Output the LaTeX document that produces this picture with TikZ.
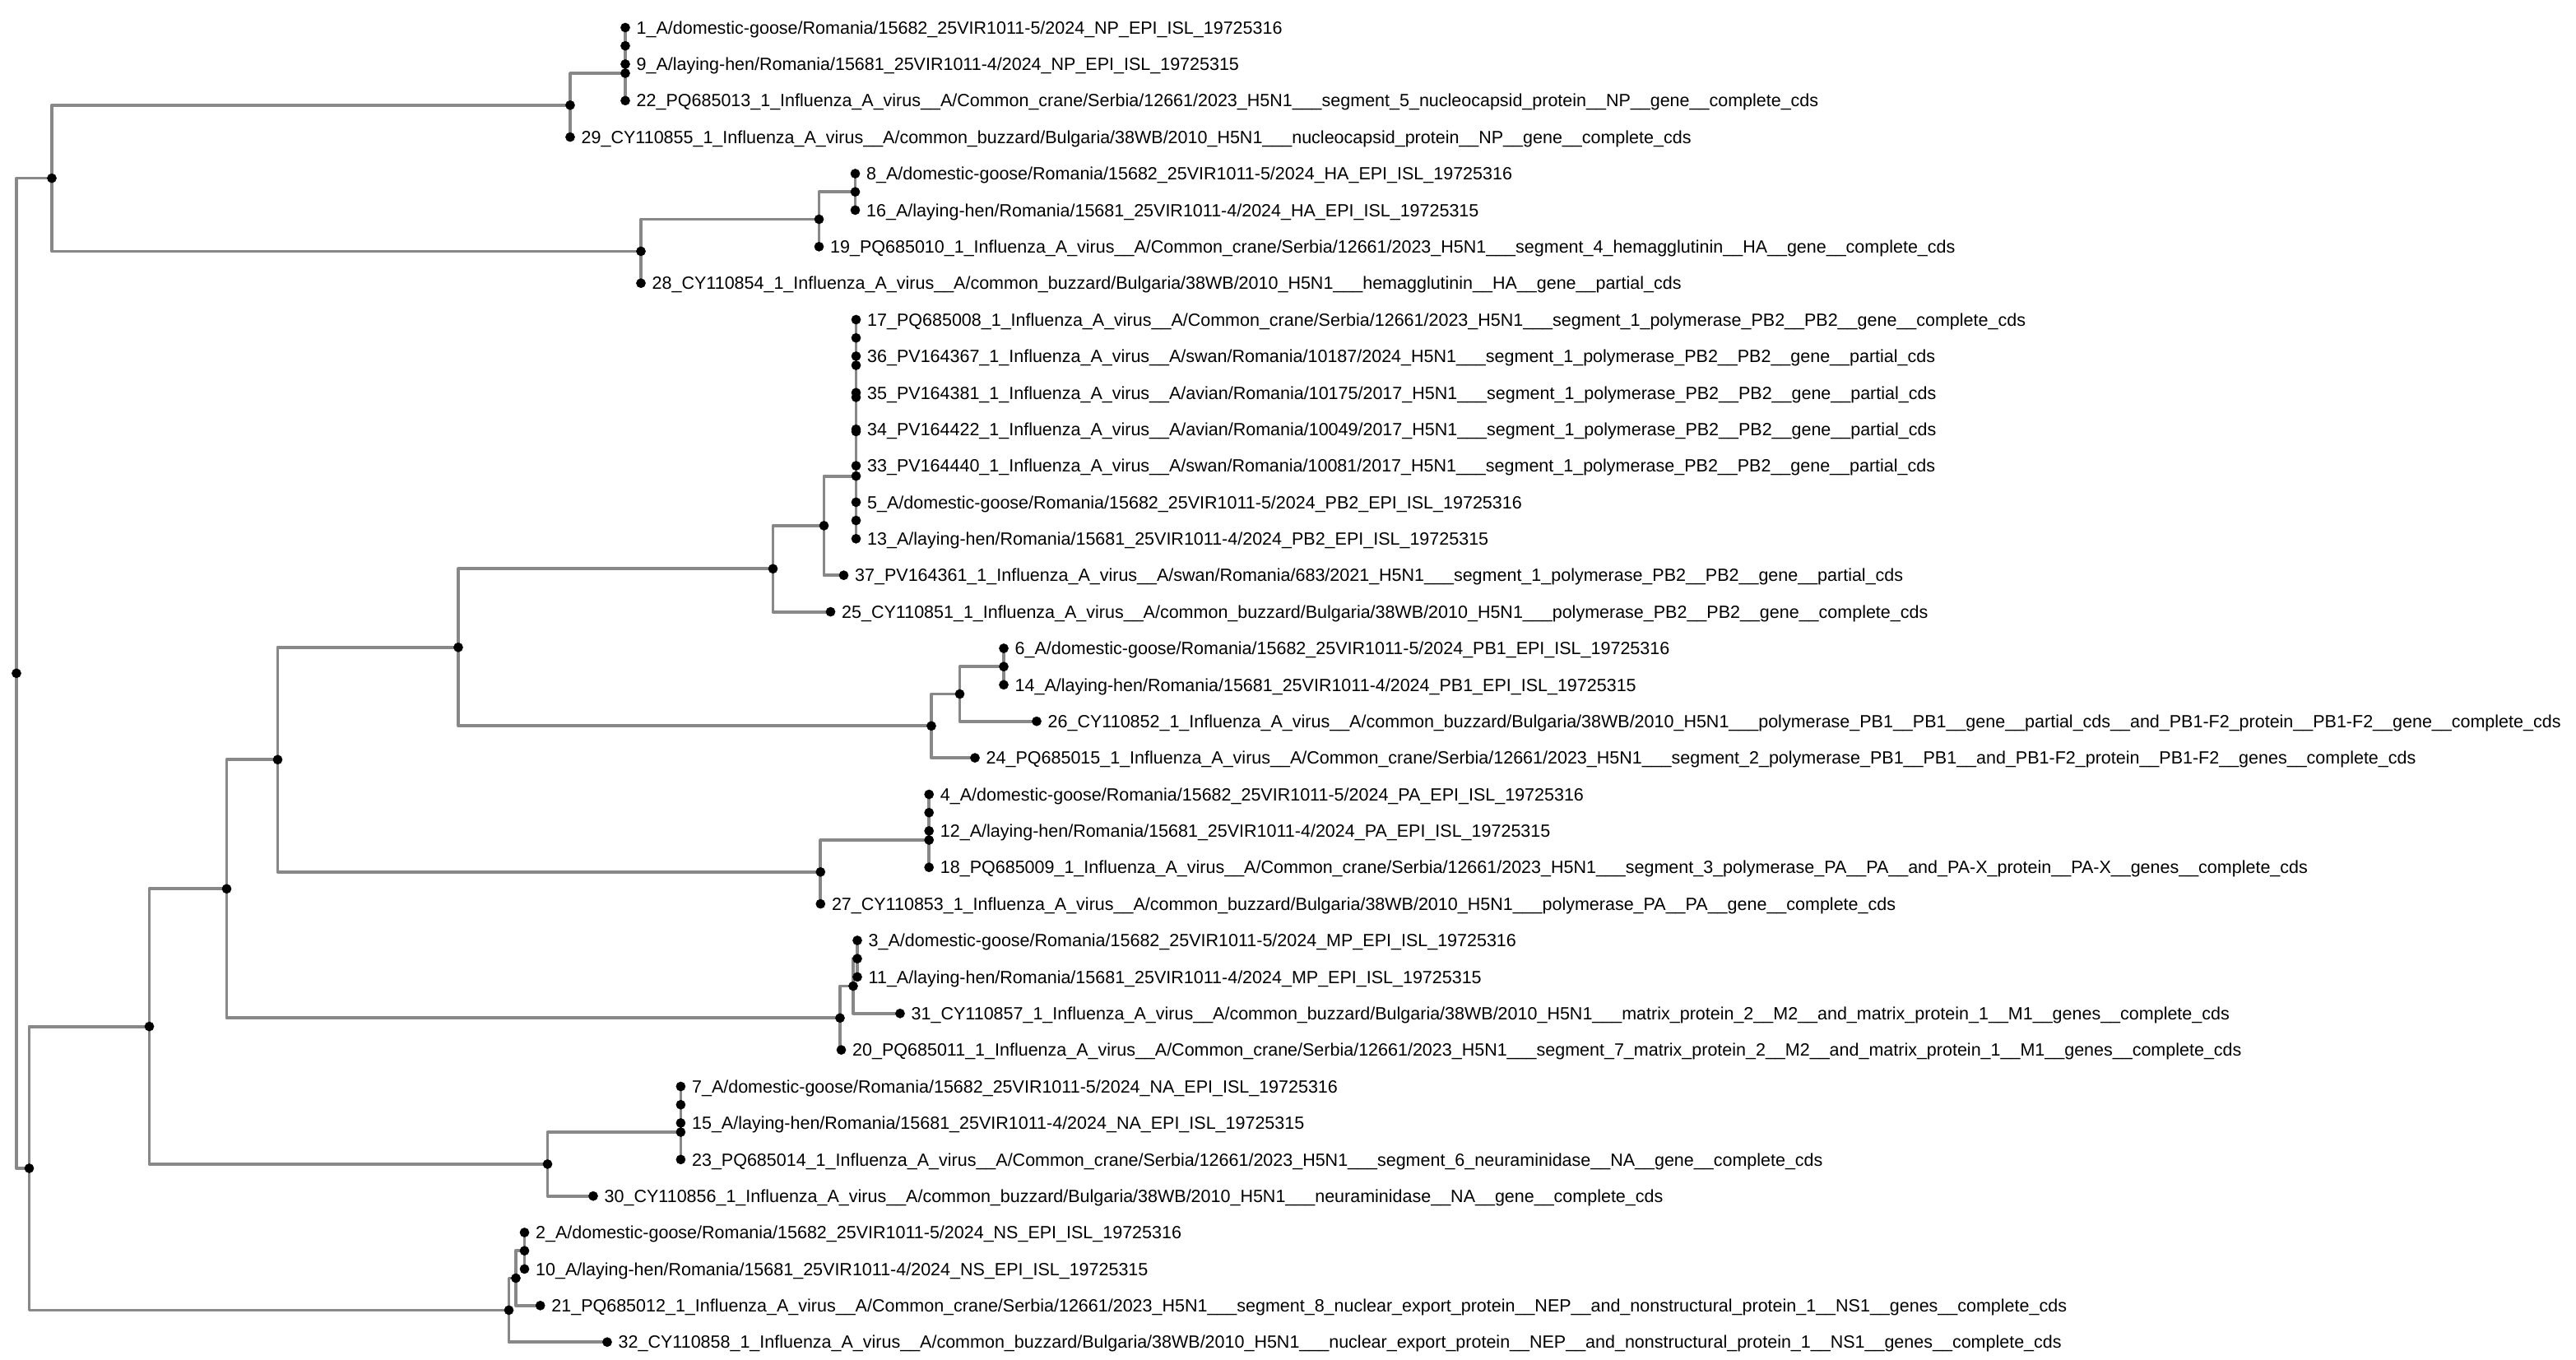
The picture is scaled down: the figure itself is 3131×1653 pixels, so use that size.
\documentclass[tikz,border=0pt]{standalone}
\usepackage{fontspec}
\setmainfont{Liberation Sans}
\definecolor{branchgray}{RGB}{136,136,136}

\begin{document}
\begin{tikzpicture}[line cap=round,line join=round,x=1pt,y=-1pt,
		branch/.style={line width=3.8pt,color=branchgray},
		leaflab/.style={anchor=base west,inner sep=0pt,xshift=13.5pt,yshift=-7.7pt,font=\fontsize{21.5}{25}\selectfont}]
		\useasboundingbox (0,0) rectangle (3131,1653);
		% internal nodes
		\coordinate (root) at (20,818.3);
		\coordinate (npha) at (63,216.6);
		\coordinate (np) at (693,127.8);
		\coordinate (np2) at (760,89.0);
		\coordinate (np1) at (760,55.7);
		\coordinate (ha) at (779,305.4);
		\coordinate (ha2) at (995.5,266.5);
		\coordinate (ha1) at (1039.5,233.2);
		\coordinate (pns) at (35.5,1420.0);
		\coordinate (pna) at (181.5,1247.6);
		\coordinate (pmp) at (275.5,1080.3);
		\coordinate (ppa) at (337.5,923.3);
		\coordinate (pb) at (557,786.8);
		\coordinate (pb2) at (939.5,691.3);
		\coordinate (pb2f) at (1001.5,638.9);
		\coordinate (pb2e) at (1040.5,578.6);
		\coordinate (pb2d) at (1040.5,524.5);
		\coordinate (pb2c) at (1040.5,482.9);
		\coordinate (pb2b) at (1040.5,444.0);
		\coordinate (pb2a) at (1040.5,410.7);
		\coordinate (pb2g) at (1040.5,632.6);
		\coordinate (pb1) at (1132,882.3);
		\coordinate (pb1b) at (1166.5,843.5);
		\coordinate (pb1a) at (1220,810.2);
		\coordinate (pa) at (997.3,1059.8);
		\coordinate (pa2) at (1129.2,1021.0);
		\coordinate (pa1) at (1129.2,987.7);
		\coordinate (mp) at (1021,1237.3);
		\coordinate (mp2) at (1037,1198.5);
		\coordinate (mp1) at (1042,1165.2);
		\coordinate (na) at (665.5,1414.9);
		\coordinate (na2) at (827.4,1376.0);
		\coordinate (na1) at (827.4,1342.7);
		\coordinate (ns) at (618.5,1592.4);
		\coordinate (ns2) at (627,1553.5);
		\coordinate (ns1) at (637.5,1520.2);
		% leaves
		\coordinate (lf1) at (760,33.5);
		\coordinate (lf9) at (760,77.9);
		\coordinate (lf22) at (760,122.3);
		\coordinate (lf29) at (693,166.6);
		\coordinate (lf8) at (1039.5,211.0);
		\coordinate (lf16) at (1039.5,255.4);
		\coordinate (lf19) at (995.5,299.8);
		\coordinate (lf28) at (779,344.2);
		\coordinate (lf17) at (1040.5,388.5);
		\coordinate (lf36) at (1040.5,432.9);
		\coordinate (lf35) at (1040.5,477.3);
		\coordinate (lf34) at (1040.5,521.7);
		\coordinate (lf33) at (1040.5,566.1);
		\coordinate (lf5) at (1040.5,610.4);
		\coordinate (lf13) at (1040.5,654.8);
		\coordinate (lf37) at (1025.5,699.2);
		\coordinate (lf25) at (1009.5,743.6);
		\coordinate (lf6) at (1220,788.0);
		\coordinate (lf14) at (1220,832.3);
		\coordinate (lf26) at (1260,876.7);
		\coordinate (lf24) at (1185,921.1);
		\coordinate (lf4) at (1129.2,965.5);
		\coordinate (lf12) at (1129.2,1009.9);
		\coordinate (lf18) at (1129.2,1054.2);
		\coordinate (lf27) at (997.3,1098.6);
		\coordinate (lf3) at (1042,1143.0);
		\coordinate (lf11) at (1042,1187.4);
		\coordinate (lf31) at (1094,1231.8);
		\coordinate (lf20) at (1022.5,1276.1);
		\coordinate (lf7) at (827.4,1320.5);
		\coordinate (lf15) at (827.4,1364.9);
		\coordinate (lf23) at (827.4,1409.3);
		\coordinate (lf30) at (721,1453.7);
		\coordinate (lf2) at (637.5,1498.0);
		\coordinate (lf10) at (637.5,1542.4);
		\coordinate (lf21) at (656.7,1586.8);
		\coordinate (lf32) at (738,1631.2);
		% branches
		\draw [branch] (root) |- (npha) (root) |- (pns);
		\draw [branch] (npha) |- (np) (npha) |- (ha);
		\draw [branch] (np) |- (np2) (np) |- (lf29);
		\draw [branch] (np2) |- (np1) (np2) |- (lf22);
		\draw [branch] (np1) |- (lf1) (np1) |- (lf9);
		\draw [branch] (ha) |- (ha2) (ha) |- (lf28);
		\draw [branch] (ha2) |- (ha1) (ha2) |- (lf19);
		\draw [branch] (ha1) |- (lf8) (ha1) |- (lf16);
		\draw [branch] (pns) |- (pna) (pns) |- (ns);
		\draw [branch] (pna) |- (pmp) (pna) |- (na);
		\draw [branch] (pmp) |- (ppa) (pmp) |- (mp);
		\draw [branch] (ppa) |- (pb) (ppa) |- (pa);
		\draw [branch] (pb) |- (pb2) (pb) |- (pb1);
		\draw [branch] (pb2) |- (pb2f) (pb2) |- (lf25);
		\draw [branch] (pb2f) |- (pb2e) (pb2f) |- (lf37);
		\draw [branch] (pb2e) |- (pb2d) (pb2e) |- (pb2g);
		\draw [branch] (pb2d) |- (pb2c) (pb2d) |- (lf33);
		\draw [branch] (pb2c) |- (pb2b) (pb2c) |- (lf34);
		\draw [branch] (pb2b) |- (pb2a) (pb2b) |- (lf35);
		\draw [branch] (pb2a) |- (lf17) (pb2a) |- (lf36);
		\draw [branch] (pb2g) |- (lf5) (pb2g) |- (lf13);
		\draw [branch] (pb1) |- (pb1b) (pb1) |- (lf24);
		\draw [branch] (pb1b) |- (pb1a) (pb1b) |- (lf26);
		\draw [branch] (pb1a) |- (lf6) (pb1a) |- (lf14);
		\draw [branch] (pa) |- (pa2) (pa) |- (lf27);
		\draw [branch] (pa2) |- (pa1) (pa2) |- (lf18);
		\draw [branch] (pa1) |- (lf4) (pa1) |- (lf12);
		\draw [branch] (mp) |- (mp2) (mp) |- (lf20);
		\draw [branch] (mp2) |- (mp1) (mp2) |- (lf31);
		\draw [branch] (mp1) |- (lf3) (mp1) |- (lf11);
		\draw [branch] (na) |- (na2) (na) |- (lf30);
		\draw [branch] (na2) |- (na1) (na2) |- (lf23);
		\draw [branch] (na1) |- (lf7) (na1) |- (lf15);
		\draw [branch] (ns) |- (ns2) (ns) |- (lf32);
		\draw [branch] (ns2) |- (ns1) (ns2) |- (lf21);
		\draw [branch] (ns1) |- (lf2) (ns1) |- (lf10);
		% node dots
		\draw [fill=black] (root) circle (5.6pt);
		\draw [fill=black] (npha) circle (5.6pt);
		\draw [fill=black] (np) circle (5.6pt);
		\draw [fill=black] (np2) circle (5.6pt);
		\draw [fill=black] (np1) circle (5.6pt);
		\draw [fill=black] (ha) circle (5.6pt);
		\draw [fill=black] (ha2) circle (5.6pt);
		\draw [fill=black] (ha1) circle (5.6pt);
		\draw [fill=black] (pns) circle (5.6pt);
		\draw [fill=black] (pna) circle (5.6pt);
		\draw [fill=black] (pmp) circle (5.6pt);
		\draw [fill=black] (ppa) circle (5.6pt);
		\draw [fill=black] (pb) circle (5.6pt);
		\draw [fill=black] (pb2) circle (5.6pt);
		\draw [fill=black] (pb2f) circle (5.6pt);
		\draw [fill=black] (pb2e) circle (5.6pt);
		\draw [fill=black] (pb2d) circle (5.6pt);
		\draw [fill=black] (pb2c) circle (5.6pt);
		\draw [fill=black] (pb2b) circle (5.6pt);
		\draw [fill=black] (pb2a) circle (5.6pt);
		\draw [fill=black] (pb2g) circle (5.6pt);
		\draw [fill=black] (pb1) circle (5.6pt);
		\draw [fill=black] (pb1b) circle (5.6pt);
		\draw [fill=black] (pb1a) circle (5.6pt);
		\draw [fill=black] (pa) circle (5.6pt);
		\draw [fill=black] (pa2) circle (5.6pt);
		\draw [fill=black] (pa1) circle (5.6pt);
		\draw [fill=black] (mp) circle (5.6pt);
		\draw [fill=black] (mp2) circle (5.6pt);
		\draw [fill=black] (mp1) circle (5.6pt);
		\draw [fill=black] (na) circle (5.6pt);
		\draw [fill=black] (na2) circle (5.6pt);
		\draw [fill=black] (na1) circle (5.6pt);
		\draw [fill=black] (ns) circle (5.6pt);
		\draw [fill=black] (ns2) circle (5.6pt);
		\draw [fill=black] (ns1) circle (5.6pt);
		% leaf dots and names
		\draw [fill=black] (lf1) circle (5.6pt);
		\node [leaflab] (t1) at (lf1) {1\_A/domestic-goose/Romania/15682\_25VIR1011-5/2024\_NP\_EPI\_ISL\_19725316};
		\draw [fill=black] (lf9) circle (5.6pt);
		\node [leaflab] (t9) at (lf9) {9\_A/laying-hen/Romania/15681\_25VIR1011-4/2024\_NP\_EPI\_ISL\_19725315};
		\draw [fill=black] (lf22) circle (5.6pt);
		\node [leaflab] (t22) at (lf22) {22\_PQ685013\_1\_Influenza\_A\_virus\_\_A/Common\_crane/Serbia/12661/2023\_H5N1\_\_\_segment\_5\_nucleocapsid\_protein\_\_NP\_\_gene\_\_complete\_cds};
		\draw [fill=black] (lf29) circle (5.6pt);
		\node [leaflab] (t29) at (lf29) {29\_CY110855\_1\_Influenza\_A\_virus\_\_A/common\_buzzard/Bulgaria/38WB/2010\_H5N1\_\_\_nucleocapsid\_protein\_\_NP\_\_gene\_\_complete\_cds};
		\draw [fill=black] (lf8) circle (5.6pt);
		\node [leaflab] (t8) at (lf8) {8\_A/domestic-goose/Romania/15682\_25VIR1011-5/2024\_HA\_EPI\_ISL\_19725316};
		\draw [fill=black] (lf16) circle (5.6pt);
		\node [leaflab] (t16) at (lf16) {16\_A/laying-hen/Romania/15681\_25VIR1011-4/2024\_HA\_EPI\_ISL\_19725315};
		\draw [fill=black] (lf19) circle (5.6pt);
		\node [leaflab] (t19) at (lf19) {19\_PQ685010\_1\_Influenza\_A\_virus\_\_A/Common\_crane/Serbia/12661/2023\_H5N1\_\_\_segment\_4\_hemagglutinin\_\_HA\_\_gene\_\_complete\_cds};
		\draw [fill=black] (lf28) circle (5.6pt);
		\node [leaflab] (t28) at (lf28) {28\_CY110854\_1\_Influenza\_A\_virus\_\_A/common\_buzzard/Bulgaria/38WB/2010\_H5N1\_\_\_hemagglutinin\_\_HA\_\_gene\_\_partial\_cds};
		\draw [fill=black] (lf17) circle (5.6pt);
		\node [leaflab] (t17) at (lf17) {17\_PQ685008\_1\_Influenza\_A\_virus\_\_A/Common\_crane/Serbia/12661/2023\_H5N1\_\_\_segment\_1\_polymerase\_PB2\_\_PB2\_\_gene\_\_complete\_cds};
		\draw [fill=black] (lf36) circle (5.6pt);
		\node [leaflab] (t36) at (lf36) {36\_PV164367\_1\_Influenza\_A\_virus\_\_A/swan/Romania/10187/2024\_H5N1\_\_\_segment\_1\_polymerase\_PB2\_\_PB2\_\_gene\_\_partial\_cds};
		\draw [fill=black] (lf35) circle (5.6pt);
		\node [leaflab] (t35) at (lf35) {35\_PV164381\_1\_Influenza\_A\_virus\_\_A/avian/Romania/10175/2017\_H5N1\_\_\_segment\_1\_polymerase\_PB2\_\_PB2\_\_gene\_\_partial\_cds};
		\draw [fill=black] (lf34) circle (5.6pt);
		\node [leaflab] (t34) at (lf34) {34\_PV164422\_1\_Influenza\_A\_virus\_\_A/avian/Romania/10049/2017\_H5N1\_\_\_segment\_1\_polymerase\_PB2\_\_PB2\_\_gene\_\_partial\_cds};
		\draw [fill=black] (lf33) circle (5.6pt);
		\node [leaflab] (t33) at (lf33) {33\_PV164440\_1\_Influenza\_A\_virus\_\_A/swan/Romania/10081/2017\_H5N1\_\_\_segment\_1\_polymerase\_PB2\_\_PB2\_\_gene\_\_partial\_cds};
		\draw [fill=black] (lf5) circle (5.6pt);
		\node [leaflab] (t5) at (lf5) {5\_A/domestic-goose/Romania/15682\_25VIR1011-5/2024\_PB2\_EPI\_ISL\_19725316};
		\draw [fill=black] (lf13) circle (5.6pt);
		\node [leaflab] (t13) at (lf13) {13\_A/laying-hen/Romania/15681\_25VIR1011-4/2024\_PB2\_EPI\_ISL\_19725315};
		\draw [fill=black] (lf37) circle (5.6pt);
		\node [leaflab] (t37) at (lf37) {37\_PV164361\_1\_Influenza\_A\_virus\_\_A/swan/Romania/683/2021\_H5N1\_\_\_segment\_1\_polymerase\_PB2\_\_PB2\_\_gene\_\_partial\_cds};
		\draw [fill=black] (lf25) circle (5.6pt);
		\node [leaflab] (t25) at (lf25) {25\_CY110851\_1\_Influenza\_A\_virus\_\_A/common\_buzzard/Bulgaria/38WB/2010\_H5N1\_\_\_polymerase\_PB2\_\_PB2\_\_gene\_\_complete\_cds};
		\draw [fill=black] (lf6) circle (5.6pt);
		\node [leaflab] (t6) at (lf6) {6\_A/domestic-goose/Romania/15682\_25VIR1011-5/2024\_PB1\_EPI\_ISL\_19725316};
		\draw [fill=black] (lf14) circle (5.6pt);
		\node [leaflab] (t14) at (lf14) {14\_A/laying-hen/Romania/15681\_25VIR1011-4/2024\_PB1\_EPI\_ISL\_19725315};
		\draw [fill=black] (lf26) circle (5.6pt);
		\node [leaflab] (t26) at (lf26) {26\_CY110852\_1\_Influenza\_A\_virus\_\_A/common\_buzzard/Bulgaria/38WB/2010\_H5N1\_\_\_polymerase\_PB1\_\_PB1\_\_gene\_\_partial\_cds\_\_and\_PB1-F2\_protein\_\_PB1-F2\_\_gene\_\_complete\_cds};
		\draw [fill=black] (lf24) circle (5.6pt);
		\node [leaflab] (t24) at (lf24) {24\_PQ685015\_1\_Influenza\_A\_virus\_\_A/Common\_crane/Serbia/12661/2023\_H5N1\_\_\_segment\_2\_polymerase\_PB1\_\_PB1\_\_and\_PB1-F2\_protein\_\_PB1-F2\_\_genes\_\_complete\_cds};
		\draw [fill=black] (lf4) circle (5.6pt);
		\node [leaflab] (t4) at (lf4) {4\_A/domestic-goose/Romania/15682\_25VIR1011-5/2024\_PA\_EPI\_ISL\_19725316};
		\draw [fill=black] (lf12) circle (5.6pt);
		\node [leaflab] (t12) at (lf12) {12\_A/laying-hen/Romania/15681\_25VIR1011-4/2024\_PA\_EPI\_ISL\_19725315};
		\draw [fill=black] (lf18) circle (5.6pt);
		\node [leaflab] (t18) at (lf18) {18\_PQ685009\_1\_Influenza\_A\_virus\_\_A/Common\_crane/Serbia/12661/2023\_H5N1\_\_\_segment\_3\_polymerase\_PA\_\_PA\_\_and\_PA-X\_protein\_\_PA-X\_\_genes\_\_complete\_cds};
		\draw [fill=black] (lf27) circle (5.6pt);
		\node [leaflab] (t27) at (lf27) {27\_CY110853\_1\_Influenza\_A\_virus\_\_A/common\_buzzard/Bulgaria/38WB/2010\_H5N1\_\_\_polymerase\_PA\_\_PA\_\_gene\_\_complete\_cds};
		\draw [fill=black] (lf3) circle (5.6pt);
		\node [leaflab] (t3) at (lf3) {3\_A/domestic-goose/Romania/15682\_25VIR1011-5/2024\_MP\_EPI\_ISL\_19725316};
		\draw [fill=black] (lf11) circle (5.6pt);
		\node [leaflab] (t11) at (lf11) {11\_A/laying-hen/Romania/15681\_25VIR1011-4/2024\_MP\_EPI\_ISL\_19725315};
		\draw [fill=black] (lf31) circle (5.6pt);
		\node [leaflab] (t31) at (lf31) {31\_CY110857\_1\_Influenza\_A\_virus\_\_A/common\_buzzard/Bulgaria/38WB/2010\_H5N1\_\_\_matrix\_protein\_2\_\_M2\_\_and\_matrix\_protein\_1\_\_M1\_\_genes\_\_complete\_cds};
		\draw [fill=black] (lf20) circle (5.6pt);
		\node [leaflab] (t20) at (lf20) {20\_PQ685011\_1\_Influenza\_A\_virus\_\_A/Common\_crane/Serbia/12661/2023\_H5N1\_\_\_segment\_7\_matrix\_protein\_2\_\_M2\_\_and\_matrix\_protein\_1\_\_M1\_\_genes\_\_complete\_cds};
		\draw [fill=black] (lf7) circle (5.6pt);
		\node [leaflab] (t7) at (lf7) {7\_A/domestic-goose/Romania/15682\_25VIR1011-5/2024\_NA\_EPI\_ISL\_19725316};
		\draw [fill=black] (lf15) circle (5.6pt);
		\node [leaflab] (t15) at (lf15) {15\_A/laying-hen/Romania/15681\_25VIR1011-4/2024\_NA\_EPI\_ISL\_19725315};
		\draw [fill=black] (lf23) circle (5.6pt);
		\node [leaflab] (t23) at (lf23) {23\_PQ685014\_1\_Influenza\_A\_virus\_\_A/Common\_crane/Serbia/12661/2023\_H5N1\_\_\_segment\_6\_neuraminidase\_\_NA\_\_gene\_\_complete\_cds};
		\draw [fill=black] (lf30) circle (5.6pt);
		\node [leaflab] (t30) at (lf30) {30\_CY110856\_1\_Influenza\_A\_virus\_\_A/common\_buzzard/Bulgaria/38WB/2010\_H5N1\_\_\_neuraminidase\_\_NA\_\_gene\_\_complete\_cds};
		\draw [fill=black] (lf2) circle (5.6pt);
		\node [leaflab] (t2) at (lf2) {2\_A/domestic-goose/Romania/15682\_25VIR1011-5/2024\_NS\_EPI\_ISL\_19725316};
		\draw [fill=black] (lf10) circle (5.6pt);
		\node [leaflab] (t10) at (lf10) {10\_A/laying-hen/Romania/15681\_25VIR1011-4/2024\_NS\_EPI\_ISL\_19725315};
		\draw [fill=black] (lf21) circle (5.6pt);
		\node [leaflab] (t21) at (lf21) {21\_PQ685012\_1\_Influenza\_A\_virus\_\_A/Common\_crane/Serbia/12661/2023\_H5N1\_\_\_segment\_8\_nuclear\_export\_protein\_\_NEP\_\_and\_nonstructural\_protein\_1\_\_NS1\_\_genes\_\_complete\_cds};
		\draw [fill=black] (lf32) circle (5.6pt);
		\node [leaflab] (t32) at (lf32) {32\_CY110858\_1\_Influenza\_A\_virus\_\_A/common\_buzzard/Bulgaria/38WB/2010\_H5N1\_\_\_nuclear\_export\_protein\_\_NEP\_\_and\_nonstructural\_protein\_1\_\_NS1\_\_genes\_\_complete\_cds};
	\end{tikzpicture}
\end{document}
